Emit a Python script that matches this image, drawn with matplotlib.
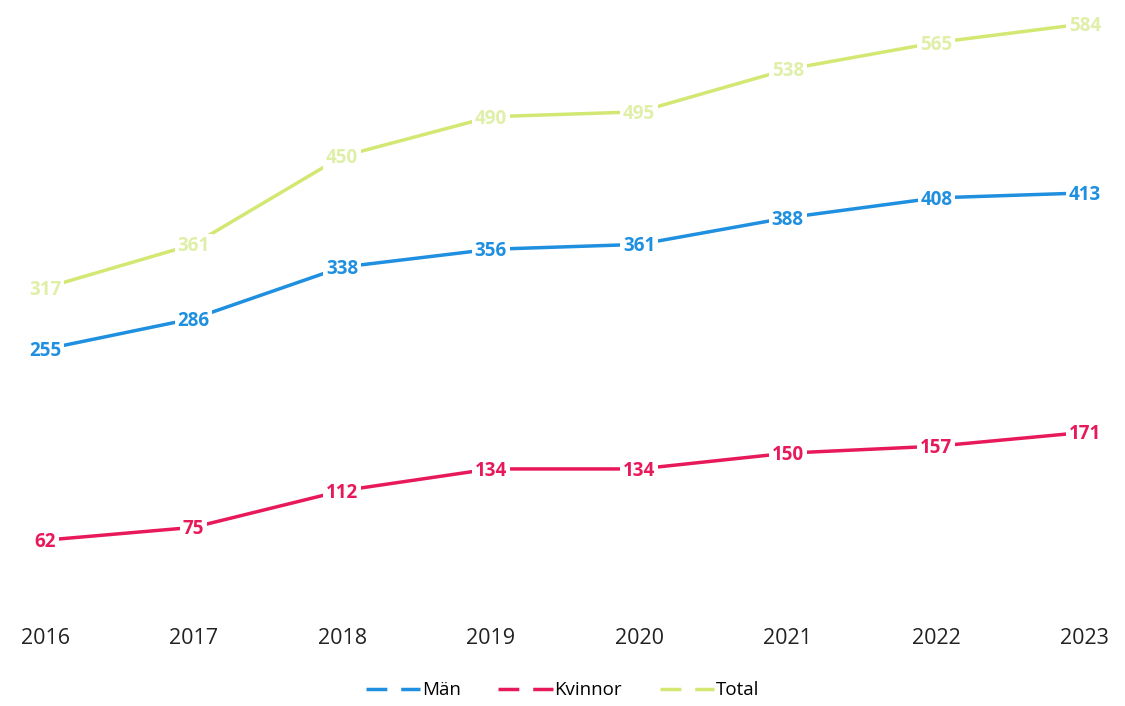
import matplotlib.pyplot as plt
from matplotlib.lines import Line2D

years = [2016, 2017, 2018, 2019, 2020, 2021, 2022, 2023]
man = [255, 286, 338, 356, 361, 388, 408, 413]
kvinnor = [62, 75, 112, 134, 134, 150, 157, 171]
total = [317, 361, 450, 490, 495, 538, 565, 584]

blue = '#1f8fe0'
red = '#e8195a'
green = '#d2e872'

plt.rcParams['font.family'] = ['Open Sans', 'DejaVu Sans']

fig = plt.figure(figsize=(11.25, 7.06), dpi=100)
ax = fig.add_axes([0.0, 0.148, 1.0, 0.852])

series = [(man, blue, blue, 'Män'), (kvinnor, red, red, 'Kvinnor'), (total, green, '#dfefa8', 'Total')]
for vals, col, tcol, name in series:
    ax.plot(years, vals, color=col, lw=2.5, solid_capstyle='round', zorder=2)
    for x, y in zip(years, vals):
        ax.text(x, y - 2, str(y), color=tcol, fontsize=13.5, fontweight='bold',
                ha='center', va='center', zorder=3,
                bbox=dict(boxstyle='square,pad=0.15', fc='white', ec='none'))

ax.set_xlim(2015.697, 2023.27)
ax.set_ylim(0, 608)
ax.set_xticks(years)
ax.set_xticklabels([str(y) for y in years], fontsize=15.5, color='#222222')
ax.tick_params(axis='x', length=0, pad=19)
ax.set_yticks([])
for s in ax.spines.values():
    s.set_visible(False)

handles = [Line2D([0], [0], color=c, lw=2.5, linestyle=(0, (6, 4))) for _, c, _, _ in series]
fig.legend(handles, [n for _, _, _, n in series], loc='center', bbox_to_anchor=(0.5, 0.022),
           ncol=3, frameon=False, fontsize=13.5, handlelength=2.9, handletextpad=0.1,
           columnspacing=2.0)

fig.savefig('out.png', dpi=100)
